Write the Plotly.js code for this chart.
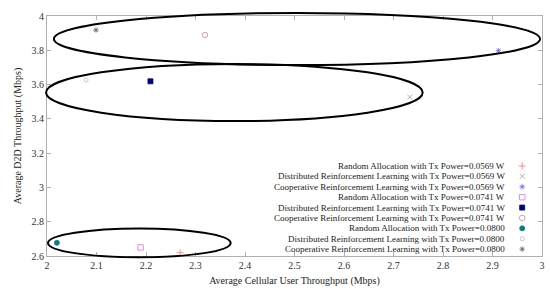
<!DOCTYPE html>
<html>
<head>
<meta charset="utf-8">
<script src="https://cdn.plot.ly/plotly-3.0.1.min.js"></script>
<style>html,body{margin:0;padding:0;background:#fff;}#chart{width:550px;height:293px;}</style>
</head>
<body>
<div id="chart"></div>
<script>
// Series data (Average Cellular User Throughput, Average D2D Throughput), Mbps
var seriesNames = [
  "Random Allocation with Tx Power=0.0569 W",
  "Distributed Reinforcement Learning with Tx Power=0.0569 W",
  "Cooperative Reinforcement Learning with Tx Power=0.0569 W",
  "Random Allocation with Tx Power=0.0741 W",
  "Distributed Reinforcement Learning with Tx Power=0.0741 W",
  "Cooperative Reinforcement Learning with Tx Power=0.0741 W",
  "Random Allocation with Tx Power=0.0800",
  "Distributed Reinforcement Learning with Tx Power=0.0800",
  "Cooperative Reinforcement Learning with Tx Power=0.0800"
];
var cellularThroughput = [2.269, 2.733, 2.912, 2.189, 2.209, 2.319, 2.020, 2.079, 2.099];
var d2dThroughput      = [2.619, 3.527, 3.798, 2.650, 3.619, 3.889, 2.677, 3.627, 3.918];

// Group ellipses [xmin, xmax, ymin, ymax] in data units
var ellipseX0 = [2.014, 1.998, 2.002];
var ellipseX1 = [2.996, 2.759, 2.371];
var ellipseY0 = [3.714, 3.387, 2.592];
var ellipseY1 = [4.018, 3.720, 2.761];

var xTicks = [2, 2.1, 2.2, 2.3, 2.4, 2.5, 2.6, 2.7, 2.8, 2.9, 3];
var yTicks = [2.6, 2.8, 3, 3.2, 3.4, 3.6, 3.8, 4];

// Styles
var symbols = ["cross-thin-open", "x-thin-open", "asterisk-open", "square-open", "square", "circle-open", "circle", "circle-open", "asterisk-open"];
var colors  = ["#ff7070", "#a0a0a0", "#6a6aff", "#e070e0", "#000080", "#cc8a8a", "#008080", "#b8b8b8", "#606060"];
var sizes   = [5, 5, 4.5, 5.5, 5, 5.5, 5, 4, 4.5];

var xRange = [2, 3], yRange = [2.6, 4];
function px(v) { return (v - xRange[0]) / (xRange[1] - xRange[0]); }
function py(v) { return (v - yRange[0]) / (yRange[1] - yRange[0]); }

var fontFam = "Liberation Serif, Times New Roman, serif";
var traces = [];
for (var i = 0; i < seriesNames.length; i++) {
  traces.push({
    type: "scatter", mode: "markers", name: seriesNames[i],
    x: [cellularThroughput[i]], y: [d2dThroughput[i]],
    marker: {symbol: symbols[i], color: colors[i], size: sizes[i], line: {color: colors[i], width: 0.8}},
    showlegend: false, hoverinfo: "skip", cliponaxis: false
  });
}

// Custom legend (text right-aligned, symbol at right)
var legTop = 0.375, legStep = 0.0433, legTextX = 0.929, legSymX = 0.96;
var annotations = [];
for (var j = 0; j < seriesNames.length; j++) {
  var yy = legTop - j * legStep;
  annotations.push({
    xref: "paper", yref: "paper", x: legTextX, y: yy, xanchor: "right", yanchor: "middle",
    text: seriesNames[j], showarrow: false, font: {family: fontFam, size: 9.0, color: "#222"}
  });
  traces.push({
    type: "scatter", mode: "markers", xaxis: "x2", yaxis: "y2",
    x: [legSymX], y: [yy],
    marker: {symbol: symbols[j], color: colors[j], size: sizes[j], line: {color: colors[j], width: 0.8}},
    showlegend: false, hoverinfo: "skip", cliponaxis: false
  });
}

var shapes = [];
for (var k = 0; k < ellipseX0.length; k++) {
  shapes.push({
    type: "circle", xref: "paper", yref: "paper",
    x0: px(ellipseX0[k]), x1: px(ellipseX1[k]), y0: py(ellipseY0[k]), y1: py(ellipseY1[k]),
    line: {color: "#000", width: 2}, layer: "above"
  });
}

var axisCommon = {
  showgrid: false, zeroline: false, showline: true, mirror: "ticks",
  linecolor: "#b0b0b0", linewidth: 1, ticks: "inside", ticklen: 4, tickcolor: "#b0b0b0",
  tickfont: {family: fontFam, size: 10, color: "#333"}
};

var layout = {
  width: 550, height: 293,
  margin: {l: 47, r: 8, t: 16, b: 37},
  paper_bgcolor: "#fff", plot_bgcolor: "#fff",
  showlegend: false,
  xaxis: Object.assign({}, axisCommon, {
    range: xRange, tickvals: xTicks, ticktext: xTicks.map(String),
    title: {text: "Average Cellular User Throughput (Mbps)", font: {family: fontFam, size: 10, color: "#222"}, standoff: 6}
  }),
  yaxis: Object.assign({}, axisCommon, {
    range: yRange, tickvals: yTicks, ticktext: yTicks.map(String),
    title: {text: "Average D2D Throughput (Mbps)", font: {family: fontFam, size: 10, color: "#222"}, standoff: 8}
  }),
  xaxis2: {overlaying: "x", range: [0, 1], visible: false, fixedrange: true},
  yaxis2: {overlaying: "y", range: [0, 1], visible: false, fixedrange: true},
  shapes: shapes,
  annotations: annotations
};

Plotly.newPlot("chart", traces, layout, {displayModeBar: false, staticPlot: true});
</script>
</body>
</html>
